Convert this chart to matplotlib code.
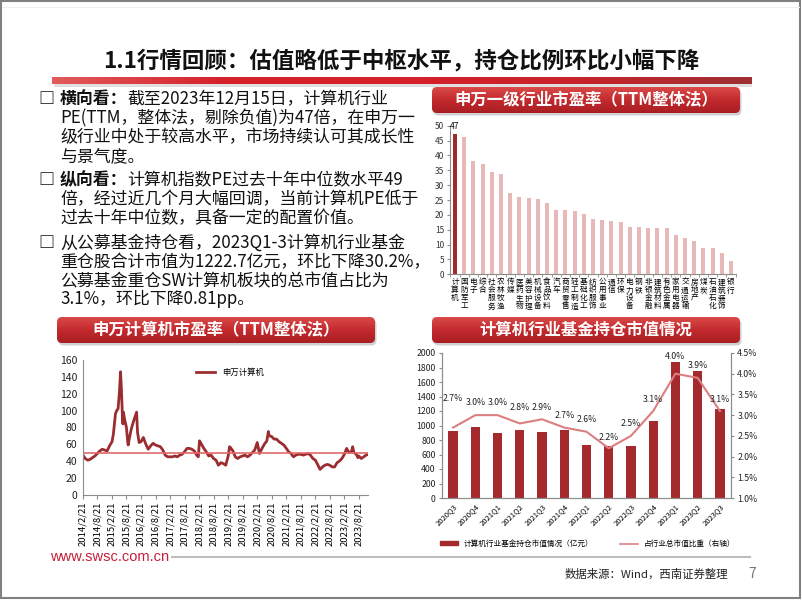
import matplotlib
matplotlib.use('Agg')
import matplotlib.pyplot as plt
import numpy as np
import pandas as pd
import matplotlib.colors as mcolors
from matplotlib.patches import FancyBboxPatch, Rectangle, Patch
from matplotlib.lines import Line2D

plt.rcParams['font.family'] = ['Noto Sans CJK SC', 'DejaVu Sans']

# ---------------- data ----------------
industries = ['计算机', '国防军工', '电子', '综合', '社会服务', '农林牧渔', '传媒', '医药生物',
              '美容护理', '机械设备', '食品饮料', '汽车', '商贸零售', '轻工制造', '基础化工',
              '纺织服饰', '公用事业', '通信', '环保', '电力设备', '钢铁', '非银金融', '建筑材料',
              '有色金属', '家用电器', '交通运输', '房地产', '煤炭', '石油石化', '建筑装饰', '银行']
industry_pe = [47.3, 46.3, 38.2, 37.0, 34.5, 33.7, 27.2, 26.0, 25.8, 25.2, 24.1, 21.6, 21.6,
               21.3, 20.2, 18.5, 18.3, 17.9, 17.7, 16.0, 16.0, 15.7, 15.7, 15.5, 13.2, 12.1,
               11.2, 8.7, 8.7, 7.1, 4.5]

pe_dates = ['2014-02-21', '2014-03-21', '2014-04-21', '2014-05-21', '2014-06-21', '2014-07-21',
            '2014-08-21', '2014-09-21', '2014-10-21', '2014-11-21', '2014-12-21', '2015-01-21',
            '2015-02-21', '2015-03-10', '2015-04-05', '2015-04-21', '2015-05-08', '2015-05-25',
            '2015-06-08', '2015-06-18', '2015-06-29', '2015-07-08', '2015-07-15', '2015-07-28',
            '2015-08-21', '2015-09-05', '2015-09-12', '2015-09-25', '2015-10-21', '2015-11-21',
            '2015-12-27', '2016-01-08', '2016-01-28', '2016-02-21', '2016-03-21', '2016-04-21',
            '2016-05-21', '2016-06-21', '2016-07-21', '2016-08-21', '2016-09-21', '2016-10-21',
            '2016-11-21', '2016-12-21', '2017-01-21', '2017-02-21', '2017-03-21', '2017-04-21',
            '2017-05-21', '2017-06-21', '2017-07-21', '2017-08-21', '2017-09-21', '2017-10-21',
            '2017-11-21', '2017-12-21', '2018-01-21', '2018-02-10', '2018-02-25', '2018-03-21',
            '2018-04-21', '2018-05-21', '2018-06-21', '2018-07-21', '2018-08-21', '2018-09-21',
            '2018-10-21', '2018-11-21', '2018-12-21', '2019-01-21', '2019-02-21', '2019-03-10',
            '2019-03-21', '2019-04-21', '2019-05-21', '2019-06-21', '2019-07-21', '2019-08-21',
            '2019-09-21', '2019-10-21', '2019-11-21', '2019-12-21', '2020-01-21', '2020-02-21',
            '2020-03-21', '2020-04-21', '2020-05-21', '2020-06-21', '2020-07-10', '2020-07-21',
            '2020-08-21', '2020-09-21', '2020-10-21', '2020-11-21', '2020-12-21', '2021-01-21',
            '2021-02-21', '2021-03-21', '2021-04-21', '2021-05-21', '2021-06-21', '2021-07-21',
            '2021-08-21', '2021-09-21', '2021-10-21', '2021-11-21', '2021-12-21', '2022-01-21',
            '2022-02-21', '2022-03-21', '2022-04-21', '2022-05-21', '2022-06-21', '2022-07-21',
            '2022-08-21', '2022-09-21', '2022-10-21', '2022-11-21', '2022-12-21', '2023-01-21',
            '2023-02-21', '2023-03-21', '2023-04-21', '2023-05-21', '2023-06-05', '2023-06-21',
            '2023-07-21', '2023-08-10', '2023-08-21', '2023-09-21', '2023-10-21', '2023-11-21',
            '2023-12-15']
pe_values = [47, 43, 41, 42, 44, 46,
             49, 52, 54, 53, 52, 58,
             63, 72, 96, 100, 102, 122,
             146, 128, 100, 84, 98, 90,
             80, 64, 59, 66, 78, 88,
             98, 74, 62, 63, 68, 60,
             54, 58, 61, 59, 58, 57,
             53, 47, 45, 45, 45, 46,
             45, 47, 48, 51, 55, 55,
             54, 52, 47, 45, 64, 60,
             55, 51, 46, 47, 43, 41,
             35, 38, 37, 35, 46, 57,
             56, 52, 45, 43, 45, 46,
             47, 45, 47, 50, 53, 62,
             49, 55, 60, 64, 75, 70,
             69, 66, 66, 63, 61, 59,
             55, 51, 49, 45, 47, 48,
             48, 47, 48, 49, 47, 43,
             41, 36, 30, 33, 35, 36,
             35, 33, 33, 38, 40, 43,
             48, 55, 50, 51, 57, 50,
             48, 44, 46, 43, 45, 47,
             48]
pe_median = 49
date_ticks = [f'{y}/{m}/21' for y in range(2014, 2024) for m in (2, 8)]

quarters = ['2020Q3', '2020Q4', '2021Q1', '2021Q2', '2021Q3', '2021Q4', '2022Q1',
            '2022Q2', '2022Q3', '2022Q4', '2023Q1', '2023Q2', '2023Q3']
fund_value = [920, 979, 897, 933, 910, 943, 736, 722, 718, 1057, 1880, 1756, 1223]
fund_share = [2.7, 3.0, 3.0, 2.8, 2.9, 2.7, 2.6, 2.2, 2.5, 3.1, 4.0, 3.9, 3.1]

# ---------------- figure ----------------
W, H = 802, 602
fig = plt.figure(figsize=(W / 100, H / 100), dpi=100)
bg = fig.add_axes([0, 0, 1, 1], zorder=0)
bg.set_xlim(0, W); bg.set_ylim(H, 0); bg.axis('off')


def ax_px(x0, y0, x1, y1):
    return fig.add_axes([x0 / W, 1 - y1 / H, (x1 - x0) / W, (y1 - y0) / H], zorder=2)


# outer border
bg.add_patch(Rectangle((1, 1), 799, 597, fc='none', ec='#808080', lw=1.5))
bg.plot([2, 799], [7, 7], color='#eeeeee', lw=0.8)

# title
bg.text(401, 61, '1.1行情回顾：估值略低于中枢水平，持仓比例环比小幅下降', fontsize=16.2,
        fontweight='bold', ha='center', va='center', color='#111111')
bar_cmap = mcolors.LinearSegmentedColormap.from_list(
    'tb', ['#E25A5C', '#D5202A', '#D5202A', '#C8232A', '#9E3033'])
bg.add_patch(Rectangle((54, 84), 698, 3, fc='#cccccc', ec='none', alpha=0.6))
bg.imshow(np.linspace(0, 1, 200).reshape(1, -1), extent=(52, 752, 84, 77), cmap=bar_cmap,
          aspect='auto', zorder=2)


def header(x0, y0, x1, y1, text, fs=11.8):
    bg.add_patch(FancyBboxPatch((x0 + 1.5, y0 + 2.5), x1 - x0, y1 - y0,
                                boxstyle='round,pad=0,rounding_size=5', fc='#999999',
                                ec='none', alpha=0.45, zorder=1))
    box = FancyBboxPatch((x0, y0), x1 - x0, y1 - y0, boxstyle='round,pad=0,rounding_size=5',
                         fc='none', ec='none', zorder=2)
    bg.add_patch(box)
    cm = mcolors.LinearSegmentedColormap.from_list('h', ['#DA4A48', '#C32A2E', '#A91E23'])
    im = bg.imshow(np.linspace(0, 1, 60).reshape(-1, 1), extent=(x0, x1, y1, y0), cmap=cm,
                   aspect='auto', zorder=2)
    im.set_clip_path(box)
    bg.text((x0 + x1) / 2, (y0 + y1) / 2, text, color='white', fontsize=fs,
            fontweight='bold', ha='center', va='center', zorder=3)


header(432, 87, 740, 113, '申万一级行业市盈率（TTM整体法）')
header(57, 317, 375, 343, '申万计算机市盈率（TTM整体法）')
header(432, 317, 740, 343, '计算机行业基金持仓市值情况')

# left text
renderer = fig.canvas.get_renderer()
FS = 12.2


def put_line(x, y, parts):
    for txt, bold in parts:
        t = bg.text(x, y, txt, fontsize=FS, fontweight='bold' if bold else 'normal',
                    ha='left', va='center', color='#111111')
        x += t.get_window_extent(renderer).width


paras = [
    ([99, 118, 137, 156],
     [[('横向看：', True), ('截至2023年12月15日，计算机行业', False)],
      [('PE(TTM，整体法，剔除负值)为47倍，在申万一', False)],
      [('级行业中处于较高水平，市场持续认可其成长性', False)],
      [('与景气度。', False)]]),
    ([180, 199, 218],
     [[('纵向看：', True), ('计算机指数PE过去十年中位数水平49', False)],
      [('倍，经过近几个月大幅回调，当前计算机PE低于', False)],
      [('过去十年中位数，具备一定的配置价值。', False)]]),
    ([243, 262, 281, 299],
     [[('从公募基金持仓看，2023Q1-3计算机行业基金', False)],
      [('重仓股合计市值为1222.7亿元，环比下降30.2%，', False)],
      [('公募基金重仓SW计算机板块的总市值占比为', False)],
      [('3.1%，环比下降0.81pp。', False)]]),
]
for ys, lines in paras:
    bg.text(46, ys[0], '□', fontsize=11.5, fontweight='bold', ha='center', va='center',
            color='#111111')
    for y, parts in zip(ys, lines):
        put_line(60, y, parts)

# footer
bg.text(50, 557, 'www.swsc.com.cn', fontsize=10.5, color='#C5203A', ha='left', va='center',
        family=['Liberation Sans', 'DejaVu Sans'])
bg.plot([172, 750], [557, 557], color='#bdbdbd', lw=1.5)
bg.text(728, 574, '数据来源：Wind，西南证券整理', fontsize=8.2, ha='right', va='center',
        color='#222222')
bg.text(752, 574, '7', fontsize=10, ha='center', va='center', color='#777777')
bg.set_xlim(0, W); bg.set_ylim(H, 0)

SP = '#8c8c8c'

# ---------------- chart 1: industry PE bars ----------------
n = len(industries)
ax1 = ax_px(450.4, 125.7, 735.6, 274.3)
xi = np.arange(n)
cols = ['#9E2A2B'] + ['#E6B9B8'] * (n - 1)
ax1.bar(xi, industry_pe, width=0.42, color=cols)
ax1.set_xlim(-0.5, n - 0.5); ax1.set_ylim(0, 50)
ax1.set_yticks(range(0, 51, 5))
ax1.set_xticks(xi)
ax1.set_xticklabels(['\n'.join(s) for s in industries], fontsize=5.5, linespacing=1.0,
                    va='top')
ax1.set_xticks(np.arange(-0.5, n, 1), minor=True)
ax1.tick_params(axis='x', which='major', length=0, pad=3)
ax1.tick_params(axis='x', which='minor', length=2.5, color=SP)
ax1.tick_params(axis='y', labelsize=6, length=2.5, color=SP, pad=2, labelcolor='#333333')
for s in ['top', 'right']:
    ax1.spines[s].set_visible(False)
for s in ['left', 'bottom']:
    ax1.spines[s].set_color(SP)
ax1.text(0, industry_pe[0] + 0.8, f'{industry_pe[0]:.0f}', ha='center', va='bottom',
         fontsize=6, clip_on=False)

# ---------------- chart 2: PE time series ----------------
ax2 = ax_px(83, 360, 368, 494.7)
dts = pd.to_datetime(pe_dates)
ax2.plot(dts, pe_values, color='#9B2D30', lw=2.0, label='申万计算机')
ax2.axhline(pe_median, color='#E06A6C', lw=1.2)
ax2.set_ylim(0, 160); ax2.set_yticks(range(0, 161, 20))
ax2.set_xlim(dts[0], dts[-1])
tick_pos = pd.to_datetime(date_ticks, format='%Y/%m/%d')
ax2.set_xticks(tick_pos)
ax2.set_xticklabels(date_ticks, rotation=90, fontsize=6.8)
ax2.tick_params(axis='x', length=3, color=SP, pad=2)
ax2.tick_params(axis='y', labelsize=7.5, length=0, pad=4, labelcolor='#222222')
for s in ['top', 'right']:
    ax2.spines[s].set_visible(False)
for s in ['left', 'bottom']:
    ax2.spines[s].set_color(SP)
ax2.legend(loc='center', bbox_to_anchor=(230 / W, 1 - 372 / H), bbox_transform=fig.transFigure,
           frameon=False, fontsize=6, handlelength=2.3)

# ---------------- chart 3: fund holdings ----------------
ax3 = ax_px(442, 353, 731, 498)
xq = np.arange(len(quarters))
ax3.bar(xq, fund_value, width=0.42, color='#A52A2E')
ax3.set_xlim(-0.5, len(quarters) - 0.5)
ax3.set_ylim(0, 2000); ax3.set_yticks(range(0, 2001, 200))
ax3.set_xticks(xq)
ax3.set_xticklabels(quarters, rotation=45, ha='right', rotation_mode='anchor', fontsize=5.5)
ax3.tick_params(axis='x', length=0, pad=3)
ax3.tick_params(axis='y', labelsize=6.3, length=2.5, color=SP, pad=2, labelcolor='#222222')
ax3r = ax3.twinx()
ax3r.set_zorder(3)
ax3r.plot(xq, fund_share, color='#DC7E80', lw=1.5)
ax3r.set_ylim(1.0, 4.5); ax3r.set_yticks(np.arange(1.0, 4.51, 0.5))
ax3r.set_yticklabels([f'{v:.1f}%' for v in np.arange(1.0, 4.51, 0.5)])
ax3r.tick_params(axis='y', labelsize=6.3, length=2.5, color=SP, pad=2, labelcolor='#222222')
label_dy = [29, 13, 13, 16, 12, 12, 12, 11, 12, 11, 17, 12, 11]
for i, (v, dy) in enumerate(zip(fund_share, label_dy)):
    ax3r.annotate(f'{v:.1f}%', (i, v), xytext=(0, dy * 0.72), textcoords='offset points',
                  ha='center', va='center', fontsize=6.3, color='#222222')
for a in (ax3, ax3r):
    a.spines['top'].set_visible(False)
    for s in ['left', 'right', 'bottom']:
        a.spines[s].set_color(SP)
handles = [Patch(color='#A52A2E'), Line2D([], [], color='#DC7E80', lw=1.2)]
ax3.legend(handles, ['计算机行业基金持仓市值情况（亿元）', '占行业总市值比重（右轴）'],
           loc='center', bbox_to_anchor=(588 / W, 1 - 544 / H), bbox_transform=fig.transFigure,
           ncol=2, frameon=False, fontsize=5.5, handlelength=2.3, handleheight=0.5,
           columnspacing=3.5)

fig.savefig('out.png', dpi=100)
